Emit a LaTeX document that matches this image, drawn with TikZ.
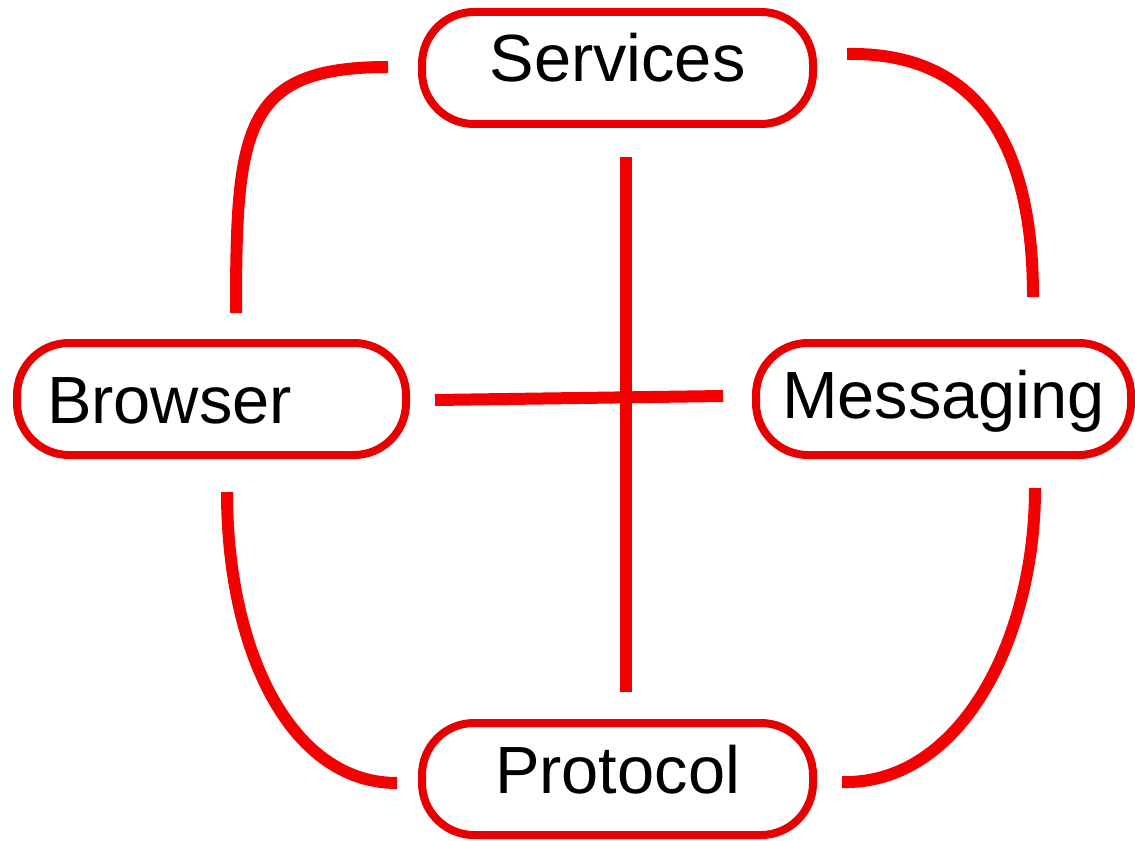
\documentclass[tikz,border=0pt]{standalone}
\usepackage{fontspec}
\setmainfont{Liberation Sans}
\usetikzlibrary{calc}

\newlength{\du}
\setlength{\du}{0.2mm}

\definecolor{boxlinecolor}{RGB}{230,0,0}
\definecolor{linklinecolor}{RGB}{245,0,0}

\tikzset{
  box/.style={draw=boxlinecolor, line width=8\du, rounded corners=52\du,
    minimum height=112\du, inner sep=0pt, text depth=0pt,
    font=\fontsize{38}{40}\selectfont},
  link/.style={draw=linklinecolor, line width=12\du, line cap=butt}
}

\begin{document}
\begin{tikzpicture}[x=\du, y=-\du]
\useasboundingbox (0,0) rectangle (1135,840);
% the four boxes
\node[box, minimum width=391\du, text height=5.6mm] (services) at (617.5,68) {Services};
\node[box, text width=329\du, inner xsep=30\du, align=left, text height=9.6mm] (browser) at (211.5,399) {Browser};
\node[box, minimum width=375\du, text height=7.6mm] (messaging) at (943.5,399) {Messaging};
\node[box, minimum width=391\du, text height=5.6mm] (protocol) at (617.5,779) {Protocol};
% the cross
\draw[link] ($(services.south)+(8.5,29)$) -- ($(protocol.north)+(8.5,-27)$);
\draw[link] ($(browser.east)+(25,1)$) -- ($(messaging.west)+(-29,-3)$);
% the outer ring
\draw[link] ($(services.west)+(-30,-1)$) .. controls +(-145,0) and +(0,-185) .. ($(browser.north)+(24.5,-26)$);
\draw[link] ($(services.east)+(30,-14)$) .. controls +(113,-2) and +(0,-177) .. ($(messaging.north)+(89.5,-42)$);
\draw[link] ($(browser.south)+(15.5,33)$) .. controls +(0,158) and +(-107,0) .. ($(protocol.west)+(-21,4)$);
\draw[link] ($(messaging.south)+(91.5,29)$) .. controls +(0,152) and +(118,3) .. ($(protocol.east)+(25,3)$);
\end{tikzpicture}
\end{document}
